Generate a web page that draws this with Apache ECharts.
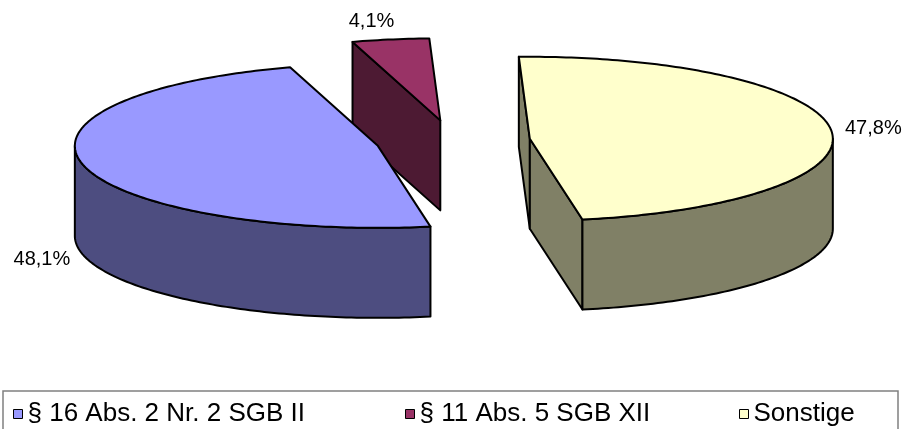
<!DOCTYPE html>
<html>
<head>
<meta charset="utf-8">
<script src="https://cdn.jsdelivr.net/npm/echarts@6/dist/echarts.min.js"></script>
<style>
  html, body { margin: 0; padding: 0; background: #fff; }
  #chart { width: 910px; height: 429px; }
</style>
</head>
<body>
<div id="chart"></div>
<script>
// Categories and their shares (percent)
const categories = ['§ 16 Abs. 2 Nr. 2 SGB II', '§ 11 Abs. 5 SGB XII', 'Sonstige'];
const shares = [48.1, 4.1, 47.8];
const topColors = ['#9999FF', '#993366', '#FFFFCC'];
const sideColors = ['#4D4D80', '#4D1A33', '#808066'];

// 3D pie geometry (screen angles in degrees, clockwise, 0 = 3 o'clock)
const CX = 453, CY = 141;       // pie centre
const RX = 303, RY = 82;        // top ellipse radii
const DEPTH = 90;               // wall height
const EXPLODE = 0.255;          // slice offset, fraction of radius
const START_DEG = 80;           // where the first slice begins
const FONT = '"Liberation Sans", Arial, sans-serif';

const total = shares.reduce((s, v) => s + v, 0);
const RAD = Math.PI / 180;

function sliceRange(i, val) {
  let before = 0;
  for (let k = 0; k < i; k++) before += shares[k];
  const a0 = START_DEG + before / total * 360;
  return [a0, a0 + val / total * 360];
}

function makeRenderer(i) {
  return function (params, api) {
    const val = api.value(0);
    const [a0, a1] = sliceRange(i, val);
    const mid = (a0 + a1) / 2 * RAD;
    const ox = CX + EXPLODE * RX * Math.cos(mid);
    const oy = CY + EXPLODE * RY * Math.sin(mid);
    const pt = (deg, drop) => [ox + RX * Math.cos(deg * RAD), oy + RY * Math.sin(deg * RAD) + drop];
    const arc = (from, to, drop) => {
      const pts = [];
      const n = Math.max(2, Math.ceil(Math.abs(to - from)));
      for (let k = 0; k <= n; k++) pts.push(pt(from + (to - from) * k / n, drop));
      return pts;
    };
    const edge = { stroke: '#000', lineWidth: 2, lineJoin: 'round' };
    const side = Object.assign({ fill: sideColors[i] }, edge);
    const children = [];

    // radial cut faces that face the viewer
    if (Math.cos(a0 * RAD) < 0) {
      children.push({ type: 'polygon', shape: { points: [[ox, oy], pt(a0, 0), pt(a0, DEPTH), [ox, oy + DEPTH]] }, style: side });
    }
    if (Math.cos(a1 * RAD) > 0) {
      children.push({ type: 'polygon', shape: { points: [[ox, oy], pt(a1, 0), pt(a1, DEPTH), [ox, oy + DEPTH]] }, style: side });
    }
    // outer wall, front half only
    [[0, 180], [360, 540]].forEach(([f0, f1]) => {
      const s = Math.max(a0, f0), e = Math.min(a1, f1);
      if (e > s) {
        const pts = arc(s, e, 0).concat(arc(e, s, DEPTH));
        children.push({ type: 'polygon', shape: { points: pts }, style: side });
      }
    });
    // top face
    children.push({
      type: 'polygon',
      shape: { points: [[ox, oy]].concat(arc(a0, a1, 0)) },
      style: Object.assign({ fill: topColors[i] }, edge)
    });
    // value label, placed just outside the slice along its middle angle
    const front = Math.sin(mid) > 0;
    const c = Math.cos(mid);
    children.push({
      type: 'text',
      style: {
        x: ox + RX * 1.14 * c - (Math.abs(c) < 0.5 ? 12 : 0),
        y: oy + RY * 1.22 * Math.sin(mid) + (front ? DEPTH : 0),
        text: val.toFixed(1).replace('.', ',') + '%',
        textAlign: 'center', textVerticalAlign: 'middle',
        align: 'center', verticalAlign: 'middle',
        font: '20px ' + FONT,
        fill: '#000'
      }
    });
    return { type: 'group', children };
  };
}

// back slices are painted first
const depthOrder = shares.map((v, i) => {
  const [a0, a1] = sliceRange(i, v);
  return Math.sin((a0 + a1) / 2 * RAD);
});
const zRank = depthOrder.map(d => depthOrder.filter(o => o < d).length + 1);

const series = categories.map((name, i) => ({
  type: 'custom',
  name,
  coordinateSystem: 'none',
  silent: true,
  z: zRank[i],
  itemStyle: { color: topColors[i] },
  renderItem: makeRenderer(i),
  data: [shares[i]]
}));

const legendLeft = [13, 405, 739];
const legend = categories.map((name, i) => ({
  left: legendLeft[i],
  top: 400,
  padding: 0,
  icon: 'rect',
  itemWidth: 9,
  itemHeight: 9,
  selectedMode: false,
  textStyle: { fontSize: 26, fontFamily: FONT, color: '#000', lineHeight: 28 },
  data: [{ name, itemStyle: { color: topColors[i], borderColor: '#000', borderWidth: 1 } }]
}));

const chart = echarts.init(document.getElementById('chart'), null, { renderer: 'canvas' });
chart.setOption({
  animation: false,
  backgroundColor: '#fff',
  legend,
  graphic: [{
    type: 'rect',
    shape: { x: 3, y: 391, width: 895, height: 60 },
    style: { fill: 'none', stroke: '#808080', lineWidth: 1.5 },
    silent: true,
    z: 0
  }],
  series
});
</script>
</body>
</html>
